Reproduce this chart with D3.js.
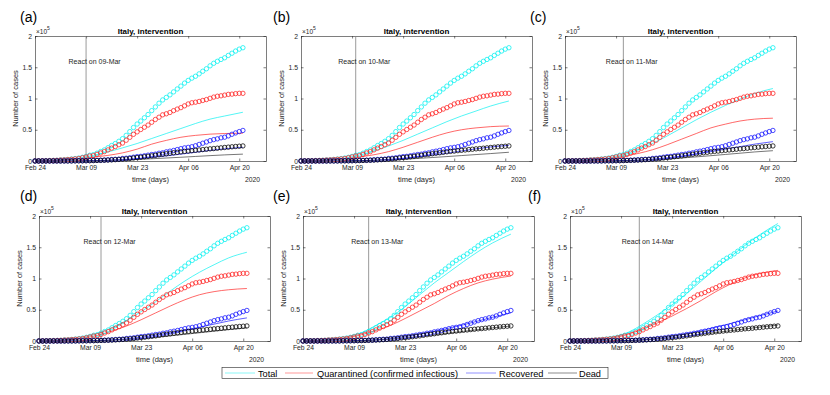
<!DOCTYPE html>
<html>
<head>
<meta charset="utf-8">
<script src="https://cdn.jsdelivr.net/npm/d3@7"></script>
<style>
  body { margin: 0; background: #fff; }
  svg { font-family: "Liberation Sans", Arial, Helvetica, sans-serif; }
</style>
</head>
<body>
<svg id="chart" width="830" height="395"></svg>
<script>
// observed Italy data, one value per day starting 24 Feb 2020 (58 days)
var totalCases = [155, 229, 322, 453, 655, 888, 1128,
    1694, 2036, 2502, 3089, 3858, 4636, 5883, 7375, 9172, 10149, 12462, 15113, 17660, 21157, 24747, 27980,
    31506, 35713, 41035, 47021, 53578, 59138, 63927, 69176, 74386, 80589, 86498, 92472, 97689, 101739, 105792,
    110574, 115242, 119827, 124632, 128948, 132547, 135586, 139422, 143626, 147577, 152271, 156363, 159516,
    162488, 165155, 168941, 172434, 175925, 178972, 181228];
var quarantinedCases = [150, 221, 311, 385, 588, 821, 1049,
    1577, 1835, 2263, 2706, 3296, 3916, 5061, 6387, 7985, 8514, 10590, 12839, 14955, 17750, 20603, 23073,
    26062, 28710, 33190, 37860, 42681, 46638, 50418, 54030, 57521, 62013, 66414, 70065, 73880, 75528, 77635,
    80572, 83049, 85388, 88274, 91246, 93187, 94067, 95262, 96877, 98273, 100269, 102253, 103616,
    104291, 105418, 106607, 106962, 107771, 108257, 108237];
var recoveredCases = [2, 1, 1, 3, 45, 46, 50,
    83, 149, 160, 276, 414, 523, 589, 622, 724, 1004, 1045, 1258, 1439, 1966, 2335, 2749,
    2941, 4025, 4440, 5129, 6072, 7024, 7432, 8326, 9362, 10361, 10950, 12384, 13030, 14620, 15729,
    16847, 18278, 19758, 20996, 21815, 22837, 24392, 26491, 28470, 30455, 32534, 34211, 35435,
    37130, 38092, 40164, 42727, 44927, 47055, 48877];
var deadCases = [3, 7, 10, 12, 17, 21, 29,
    34, 52, 79, 107, 148, 197, 233, 366, 463, 631, 827, 1016, 1266, 1441, 1809, 2158,
    2503, 2978, 3405, 4032, 4825, 5476, 6077, 6820, 7503, 8215, 9134, 10023, 10779, 11591, 12428,
    13155, 13915, 14681, 15362, 15887, 16523, 17127, 17669, 18279, 18849, 19468, 19899, 20465,
    21067, 21645, 22170, 22745, 23227, 23660, 24114];

// model curves, sampled on these day offsets from 24 Feb
var modelDays = [0, 4, 8, 12, 16, 20, 24, 28, 32, 36, 40, 44, 48, 52, 57];

// one row per panel (a..f)
var totalModel = [
    [200, 800, 2000, 4500, 9000, 14500, 21000, 28000, 36000, 44000, 52000, 60000, 67000, 72000, 78000],
    [200, 800, 2000, 4600, 9500, 16000, 24000, 33000, 43000, 53000, 63000, 72000, 80000, 88000, 96000],
    [200, 800, 2000, 5000, 10000, 18000, 28000, 40000, 53000, 66000, 78000, 89000, 99000, 108000, 116000],
    [200, 800, 2200, 5500, 12000, 21000, 33000, 47000, 63000, 80000, 96000, 110000, 122000, 133000, 142000],
    [200, 800, 2200, 5800, 13000, 25000, 38000, 55000, 74000, 93000, 110000, 127000, 143000, 157000, 171000],
    [200, 800, 2200, 6000, 14000, 27000, 42000, 58000, 76000, 96000, 116000, 135000, 153000, 170000, 188000]
];
var quarantinedModel = [
    [200, 700, 1700, 3500, 6000, 9000, 13000, 19000, 27000, 33000, 38000, 41000, 43000, 44000, 44500],
    [200, 700, 1700, 3600, 6500, 10000, 15000, 22000, 30000, 38000, 45000, 50000, 53000, 55000, 56000],
    [200, 700, 1700, 4000, 7500, 12000, 18000, 26000, 35000, 44000, 53000, 59000, 64000, 67000, 68500],
    [200, 700, 1800, 4500, 9000, 16000, 24000, 34000, 45000, 56000, 66000, 74000, 79000, 82000, 84000],
    [200, 700, 1900, 5000, 10000, 17000, 25000, 36000, 48000, 60000, 73000, 84000, 93000, 99000, 104000],
    [200, 700, 1900, 5000, 11000, 19000, 29000, 40000, 52000, 65000, 79000, 91000, 101000, 108000, 113000]
];
var recoveredModel = [
    [0, 20, 80, 250, 600, 1200, 2200, 3700, 5700, 8200, 11000, 14000, 17000, 19500, 22000],
    [0, 20, 80, 250, 600, 1300, 2500, 4300, 6600, 9500, 12500, 16000, 19500, 22500, 25000],
    [0, 20, 80, 250, 700, 1500, 3000, 5000, 7800, 11000, 15000, 19000, 23000, 27000, 31000],
    [0, 20, 90, 300, 800, 1800, 3500, 6000, 9300, 13000, 17500, 22000, 27000, 32000, 37000],
    [0, 20, 90, 300, 900, 2000, 4000, 7000, 11000, 15500, 20500, 26000, 32000, 38000, 45000],
    [0, 20, 90, 300, 900, 2100, 4200, 7400, 11500, 16500, 22000, 28000, 34000, 40500, 48000]
];
var deadModel = [
    [0, 10, 40, 150, 400, 900, 1600, 2500, 3600, 4800, 6000, 7300, 8600, 9800, 11000],
    [0, 10, 40, 150, 400, 950, 1700, 2800, 4100, 5600, 7100, 8700, 10300, 11900, 14000],
    [0, 10, 40, 160, 450, 1000, 1900, 3200, 4800, 6600, 8500, 10500, 12500, 14500, 16500],
    [0, 10, 40, 170, 500, 1200, 2300, 4000, 6000, 8300, 10700, 13200, 15700, 18200, 21000],
    [0, 10, 40, 180, 550, 1400, 2800, 4800, 7200, 9800, 12600, 15400, 18200, 21000, 24000],
    [0, 10, 40, 180, 600, 1500, 3000, 5200, 7800, 10600, 13500, 16400, 19300, 22200, 25500]
];

var panelLetters = ['(a)', '(b)', '(c)', '(d)', '(e)', '(f)'];
var reactLabels = ['09-Mar', '10-Mar', '11-Mar', '12-Mar', '13-Mar', '14-Mar'];
var reactDays = [14, 15, 16, 17, 18, 19];
var xTickDays = [0, 14, 28, 42, 56];
var yTicks = [0, 0.5e5, 1e5, 1.5e5, 2e5];
var seriesNames = ['Total', 'Quarantined (confirmed infectious)', 'Recovered', 'Dead'];
var seriesColors = ['#00f0f0', '#ff2020', '#1010ff', '#000000'];

// layout
var boxW = 231, boxH = 125;
var panelPos = [
    {left: 35, top: 36, lx: 20, ly: 22},
    {left: 301, top: 36, lx: 273, ly: 22},
    {left: 565, top: 36, lx: 530, ly: 22},
    {left: 39, top: 216, lx: 20, ly: 201},
    {left: 303, top: 216, lx: 273, ly: 201},
    {left: 570, top: 216, lx: 528, ly: 201}
];
var axisColor = '#262626';

var start = new Date(2020, 1, 24);
function dayDate(n) { return d3.timeDay.offset(start, n); }

var svg = d3.select('#chart');

function styleAxis(g) {
    g.selectAll('path').attr('stroke', axisColor).attr('stroke-width', 0.6);
    g.selectAll('line').attr('stroke', axisColor).attr('stroke-width', 0.6);
    g.selectAll('text').attr('fill', axisColor).style('font-size', '6.8px')
        .style('font-family', '"Liberation Sans", Arial, sans-serif');
}

function drawPanel(i) {
    var p = panelPos[i];
    var g = svg.append('g').attr('transform', 'translate(' + p.left + ',' + p.top + ')');

    var x = d3.scaleTime()
        .domain([start, new Date(2020, 3, 27, 8)])
        .range([0, boxW]);
    var y = d3.scaleLinear().domain([0, 2e5]).range([boxH, 0]);

    // axes, ticks pointing inwards like a boxed matlab axes
    var xTicks = xTickDays.map(dayDate);
    g.append('g').attr('transform', 'translate(0,' + boxH + ')')
        .call(d3.axisBottom(x).tickValues(xTicks).tickFormat(d3.timeFormat('%b %d'))
            .tickSizeInner(-2.5).tickSizeOuter(0).tickPadding(4.6))
        .call(styleAxis);
    g.append('g')
        .call(d3.axisTop(x).tickValues(xTicks).tickFormat('').tickSizeInner(-2.5).tickSizeOuter(0))
        .call(styleAxis);
    g.append('g')
        .call(d3.axisLeft(y).tickValues(yTicks).tickFormat(function(d) { return d / 1e5; })
            .tickSizeInner(-2.5).tickSizeOuter(0).tickPadding(3))
        .call(styleAxis);
    g.append('g').attr('transform', 'translate(' + boxW + ',0)')
        .call(d3.axisRight(y).tickValues(yTicks).tickFormat('').tickSizeInner(-2.5).tickSizeOuter(0))
        .call(styleAxis);

    // exponent
    var ex = g.append('text').attr('x', 1).attr('y', -2.5)
        .attr('fill', axisColor).style('font-size', '6.5px').text('\u00d710');
    ex.append('tspan').attr('dy', -3.3).style('font-size', '5px').text('5');

    g.append('text').attr('x', boxW / 2).attr('y', -2.5)
        .attr('text-anchor', 'middle').attr('font-weight', 'bold')
        .style('font-size', '8px').attr('fill', '#000').text('Italy, intervention');

    g.append('text')
        .attr('transform', 'translate(-17,' + (boxH / 2) + ') rotate(-90)')
        .attr('text-anchor', 'middle').attr('fill', axisColor).style('font-size', '7.5px')
        .text('Number of cases');

    g.append('text').attr('x', boxW / 2).attr('y', boxH + 21)
        .attr('text-anchor', 'middle').attr('fill', axisColor).style('font-size', '7.5px')
        .text('time (days)');
    g.append('text').attr('x', boxW - 6).attr('y', boxH + 21)
        .attr('text-anchor', 'end').attr('fill', axisColor).style('font-size', '6.8px')
        .text('2020');

    // reaction date
    var rx = x(dayDate(reactDays[i]));
    g.append('line').attr('x1', rx).attr('x2', rx).attr('y1', 0).attr('y2', boxH)
        .attr('stroke', '#808080').attr('stroke-width', 0.8);
    g.append('text').attr('x', rx - 17.5).attr('y', y(1.6e5) + 2.5)
        .attr('fill', axisColor).style('font-size', '7px')
        .text('React on ' + reactLabels[i]);

    // model lines
    var models = [totalModel[i], quarantinedModel[i], recoveredModel[i], deadModel[i]];
    var line = d3.line()
        .x(function(d, k) { return x(dayDate(modelDays[k])); })
        .y(function(d) { return y(d); })
        .curve(d3.curveMonotoneX);
    models.forEach(function(vals, s) {
        g.append('path').datum(vals)
            .attr('d', line)
            .attr('fill', 'none')
            .attr('stroke', seriesColors[s])
            .attr('stroke-width', 0.9)
            .attr('opacity', s === 3 ? 0.6 : 0.75);
    });

    // observed data as open circles
    var observed = [totalCases, quarantinedCases, recoveredCases, deadCases];
    observed.forEach(function(vals, s) {
        g.append('g').selectAll('circle').data(vals).enter().append('circle')
            .attr('cx', function(d, k) { return x(dayDate(k)); })
            .attr('cy', function(d) { return y(d); })
            .attr('r', 2.2)
            .attr('fill', 'none')
            .attr('stroke', seriesColors[s])
            .attr('stroke-width', 0.75);
    });

    svg.append('text').attr('x', p.lx).attr('y', p.ly)
        .style('font-size', '14px').attr('fill', '#000').text(panelLetters[i]);
}

for (var i = 0; i < panelLetters.length; i++) drawPanel(i);

// legend
var legendItems = [
    {x1: 225, x2: 255, tx: 258},
    {x1: 285, x2: 313, tx: 317},
    {x1: 466, x2: 496, tx: 499},
    {x1: 548, x2: 577, tx: 579}
];
var lg = svg.append('g');
lg.append('rect').attr('x', 222).attr('y', 367.5).attr('width', 386).attr('height', 11)
    .attr('fill', '#fff').attr('stroke', axisColor).attr('stroke-width', 0.6);
legendItems.forEach(function(it, s) {
    lg.append('line').attr('x1', it.x1).attr('x2', it.x2).attr('y1', 373).attr('y2', 373)
        .attr('stroke', seriesColors[s]).attr('stroke-width', 1).attr('opacity', 0.45);
    lg.append('text').attr('x', it.tx).attr('y', 376.5)
        .attr('fill', '#000').style('font-size', '9.2px').text(seriesNames[s]);
});
</script>
</body>
</html>
